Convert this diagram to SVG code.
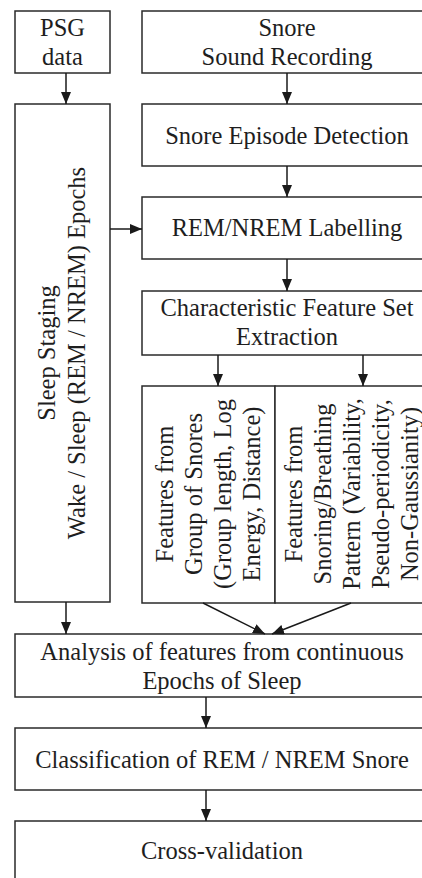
<svg xmlns="http://www.w3.org/2000/svg" width="422" height="878" viewBox="0 0 422 878">
<defs>
<marker id="ah" markerUnits="userSpaceOnUse" markerWidth="12" markerHeight="10" refX="12" refY="5" orient="auto">
<path d="M0,0 L12,5 L0,10 z" fill="#1a1a1a"/>
</marker>
<style>
.box{fill:#fff;stroke:#2a2a2a;stroke-width:1.5}
.t{font-family:'Liberation Serif','DejaVu Serif',serif;font-size:24.5px;fill:#1e1e1e;text-anchor:middle}
.c{fill:none;stroke:#1a1a1a;stroke-width:1.5;marker-end:url(#ah)}
</style>
</defs>
<rect width="422" height="878" fill="#fff"/>
<g id="psg">
<rect class="box" x="15" y="11" width="95" height="62"/>
<text class="t" x="62.5" y="36">PSG</text>
<text class="t" x="62.5" y="65">data</text>
</g>
<g id="snore-recording">
<rect class="box" x="142" y="11" width="290" height="62"/>
<text class="t" x="287" y="36">Snore</text>
<text class="t" x="287" y="65">Sound Recording</text>
</g>
<g id="sleep-staging">
<rect class="box" x="15" y="104" width="95" height="498"/>
<text class="t" transform="translate(55,353) rotate(-90)">Sleep Staging</text>
<text class="t" transform="translate(85,353) rotate(-90)">Wake / Sleep (REM / NREM) Epochs</text>
</g>
<g id="episode-detection">
<rect class="box" x="142" y="104" width="290" height="62"/>
<text class="t" x="287" y="144">Snore Episode Detection</text>
</g>
<g id="labelling">
<rect class="box" x="142" y="197" width="290" height="62"/>
<text class="t" x="287" y="236">REM/NREM Labelling</text>
</g>
<g id="feature-extraction">
<rect class="box" x="142" y="291" width="290" height="64"/>
<text class="t" x="287" y="316">Characteristic Feature Set</text>
<text class="t" x="287" y="345">Extraction</text>
</g>
<g id="group-features">
<rect class="box" x="142" y="386" width="133" height="217"/>
<text class="t" transform="translate(173,494) rotate(-90)">Features from</text>
<text class="t" transform="translate(202,494) rotate(-90)">Group of Snores</text>
<text class="t" transform="translate(231,494) rotate(-90)">(Group length, Log</text>
<text class="t" transform="translate(260,494) rotate(-90)">Energy, Distance)</text>
</g>
<g id="pattern-features">
<rect class="box" x="275" y="386" width="157" height="217"/>
<text class="t" transform="translate(302,494) rotate(-90)">Features from</text>
<text class="t" transform="translate(331,494) rotate(-90)">Snoring/Breathing</text>
<text class="t" transform="translate(360,494) rotate(-90)">Pattern (Variability,</text>
<text class="t" transform="translate(389,494) rotate(-90)">Pseudo-periodicity,</text>
<text class="t" transform="translate(418,494) rotate(-90)">Non-Gaussianity)</text>
</g>
<g id="analysis">
<rect class="box" x="15" y="634" width="414" height="63"/>
<text class="t" x="222" y="660">Analysis of features from continuous</text>
<text class="t" x="222" y="689">Epochs of Sleep</text>
</g>
<g id="classification">
<rect class="box" x="15" y="728" width="414" height="62"/>
<text class="t" x="222" y="768">Classification of REM / NREM Snore</text>
</g>
<g id="cross-validation">
<rect class="box" x="15" y="821" width="414" height="62"/>
<text class="t" x="222" y="859">Cross-validation</text>
</g>
<g id="connectors">
<line class="c" x1="66" y1="73" x2="66" y2="104"/>
<line class="c" x1="287" y1="73" x2="287" y2="104"/>
<line class="c" x1="287" y1="166" x2="287" y2="197"/>
<line class="c" x1="110" y1="229" x2="142" y2="229"/>
<line class="c" x1="287" y1="259" x2="287" y2="291"/>
<line class="c" x1="218" y1="355" x2="218" y2="386"/>
<line class="c" x1="363" y1="355" x2="363" y2="386"/>
<line class="c" x1="66" y1="602" x2="66" y2="634"/>
<line class="c" x1="203" y1="603" x2="265" y2="634"/>
<line class="c" x1="351" y1="603" x2="272" y2="634"/>
<line class="c" x1="206" y1="697" x2="206" y2="728"/>
<line class="c" x1="206" y1="790" x2="206" y2="821"/>
</g>
</svg>
